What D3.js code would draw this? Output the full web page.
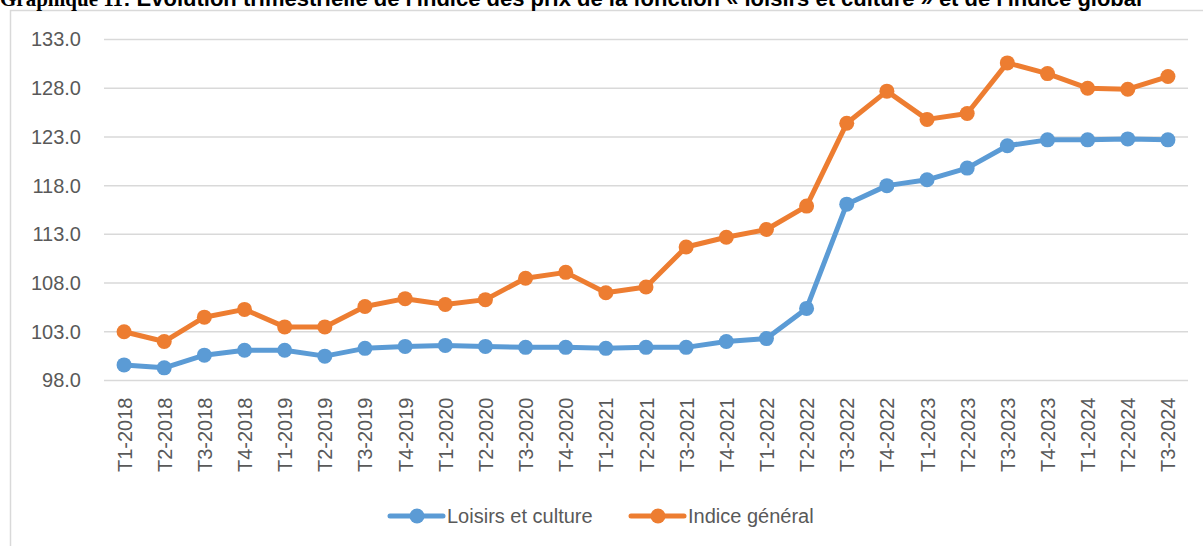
<!doctype html>
<html>
<head>
    <meta charset="UTF-8">
    <title>Graphique 11</title>
    <script src="https://d3js.org/d3.v7.min.js"></script>
    <style>
        body { margin: 0; background: #fff; }
        svg { display: block; }
    </style>
</head>
<body>
<script>
    // trimestres
    var trimestres = ["T1-2018","T2-2018","T3-2018","T4-2018",
                      "T1-2019","T2-2019","T3-2019","T4-2019",
                      "T1-2020","T2-2020","T3-2020","T4-2020",
                      "T1-2021","T2-2021","T3-2021","T4-2021",
                      "T1-2022","T2-2022","T3-2022","T4-2022",
                      "T1-2023","T2-2023","T3-2023","T4-2023",
                      "T1-2024","T2-2024","T3-2024"];

    var loisirs = [99.6, 99.3, 100.6, 101.1, 101.1, 100.5, 101.3, 101.5, 101.6, 101.5,
                   101.4, 101.4, 101.3, 101.4, 101.4, 102.0, 102.3, 105.4, 116.1, 118.0,
                   118.6, 119.8, 122.1, 122.7, 122.7, 122.8, 122.7];

    var general = [103.0, 102.0, 104.5, 105.3, 103.5, 103.5, 105.6, 106.4, 105.8, 106.3,
                   108.5, 109.1, 107.0, 107.6, 111.7, 112.7, 113.5, 115.9, 124.4, 127.7,
                   124.8, 125.4, 130.6, 129.5, 128.0, 127.9, 129.2];

    var yTicks = [98, 103, 108, 113, 118, 123, 128, 133];

    var series = [
        { name: "Loisirs et culture", values: loisirs, color: "#5B9BD5" },
        { name: "Indice général", values: general, color: "#ED7D31" }
    ];

    var w = 1203, h = 546;
    var plotLeft = 104, plotRight = 1188, plotTop = 39.5, plotBottom = 380.5;

    var svg = d3.select("body").append("svg")
        .attr("width", w)
        .attr("height", h);

    // cadre du graphique
    svg.append("path")
        .attr("d", "M10.5,546 L10.5,10.5 L1203,10.5")
        .attr("fill", "none")
        .attr("stroke", "#D9D9D9")
        .attr("stroke-width", 1.5);

    // titre (coupé en haut comme dans l'original)
    var title = svg.append("text")
        .attr("x", 0)
        .attr("y", 6)
        .attr("font-weight", "bold")
        .attr("fill", "#000");
    title.append("tspan")
        .attr("font-family", "'Liberation Serif', serif")
        .attr("font-size", 21)
        .text("Graphique 11");
    title.append("tspan")
        .attr("font-family", "'Liberation Sans', Arial, sans-serif")
        .attr("font-size", 22)
        .text(": Evolution trimestrielle de l'indice des prix de la fonction « loisirs et culture » et de l'indice global");

    var x = d3.scalePoint()
        .domain(trimestres)
        .range([plotLeft, plotRight])
        .padding(0.5);

    var y = d3.scaleLinear()
        .domain([98, 133])
        .range([plotBottom, plotTop]);

    // grille
    svg.append("g")
        .selectAll("line")
        .data(yTicks)
        .enter()
        .append("line")
        .attr("x1", plotLeft)
        .attr("x2", plotRight)
        .attr("y1", function(d){ return y(d); })
        .attr("y2", function(d){ return y(d); })
        .attr("stroke", "#D9D9D9")
        .attr("stroke-width", 1.5);

    // axe Y
    var yAxis = svg.append("g")
        .attr("transform", "translate(" + plotLeft + ",0)")
        .call(d3.axisLeft(y).tickValues(yTicks).tickFormat(d3.format(".1f")).tickSize(0).tickPadding(23));
    yAxis.select(".domain").remove();
    yAxis.selectAll("text")
        .attr("font-family", "'Liberation Sans', Arial, sans-serif")
        .attr("font-size", 20)
        .attr("fill", "#595959");

    // axe X
    var xAxis = svg.append("g")
        .attr("transform", "translate(0," + plotBottom + ")")
        .call(d3.axisBottom(x).tickSize(0).tickPadding(0));
    xAxis.select(".domain").remove();
    xAxis.selectAll("text")
        .attr("font-family", "'Liberation Sans', Arial, sans-serif")
        .attr("font-size", 20)
        .attr("fill", "#595959")
        .attr("text-anchor", "end")
        .attr("dy", "0.35em")
        .attr("transform", "translate(0,17) rotate(-90)");

    var line = d3.line()
        .x(function(d, i){ return x(trimestres[i]); })
        .y(function(d){ return y(d); });

    series.forEach(function(s){
        var g = svg.append("g");
        g.append("path")
            .datum(s.values)
            .attr("d", line)
            .attr("fill", "none")
            .attr("stroke", s.color)
            .attr("stroke-width", 5)
            .attr("stroke-linejoin", "round")
            .attr("stroke-linecap", "round");
        g.selectAll("circle")
            .data(s.values)
            .enter()
            .append("circle")
            .attr("cx", function(d, i){ return x(trimestres[i]); })
            .attr("cy", function(d){ return y(d); })
            .attr("r", 7.5)
            .attr("fill", s.color);
    });

    // légende
    var legX = [390, 631];
    var legend = svg.append("g")
        .selectAll("g")
        .data(series)
        .enter()
        .append("g")
        .attr("transform", function(d, i){ return "translate(" + legX[i] + ",516)"; });
    legend.append("line")
        .attr("x1", 0).attr("x2", 53)
        .attr("stroke", function(d){ return d.color; })
        .attr("stroke-width", 5)
        .attr("stroke-linecap", "round");
    legend.append("circle")
        .attr("cx", 27)
        .attr("r", 7.5)
        .attr("fill", function(d){ return d.color; });
    legend.append("text")
        .attr("x", 57)
        .attr("dy", "0.35em")
        .attr("font-family", "'Liberation Sans', Arial, sans-serif")
        .attr("font-size", 20)
        .attr("fill", "#595959")
        .text(function(d){ return d.name; });
</script>
</body>
</html>
